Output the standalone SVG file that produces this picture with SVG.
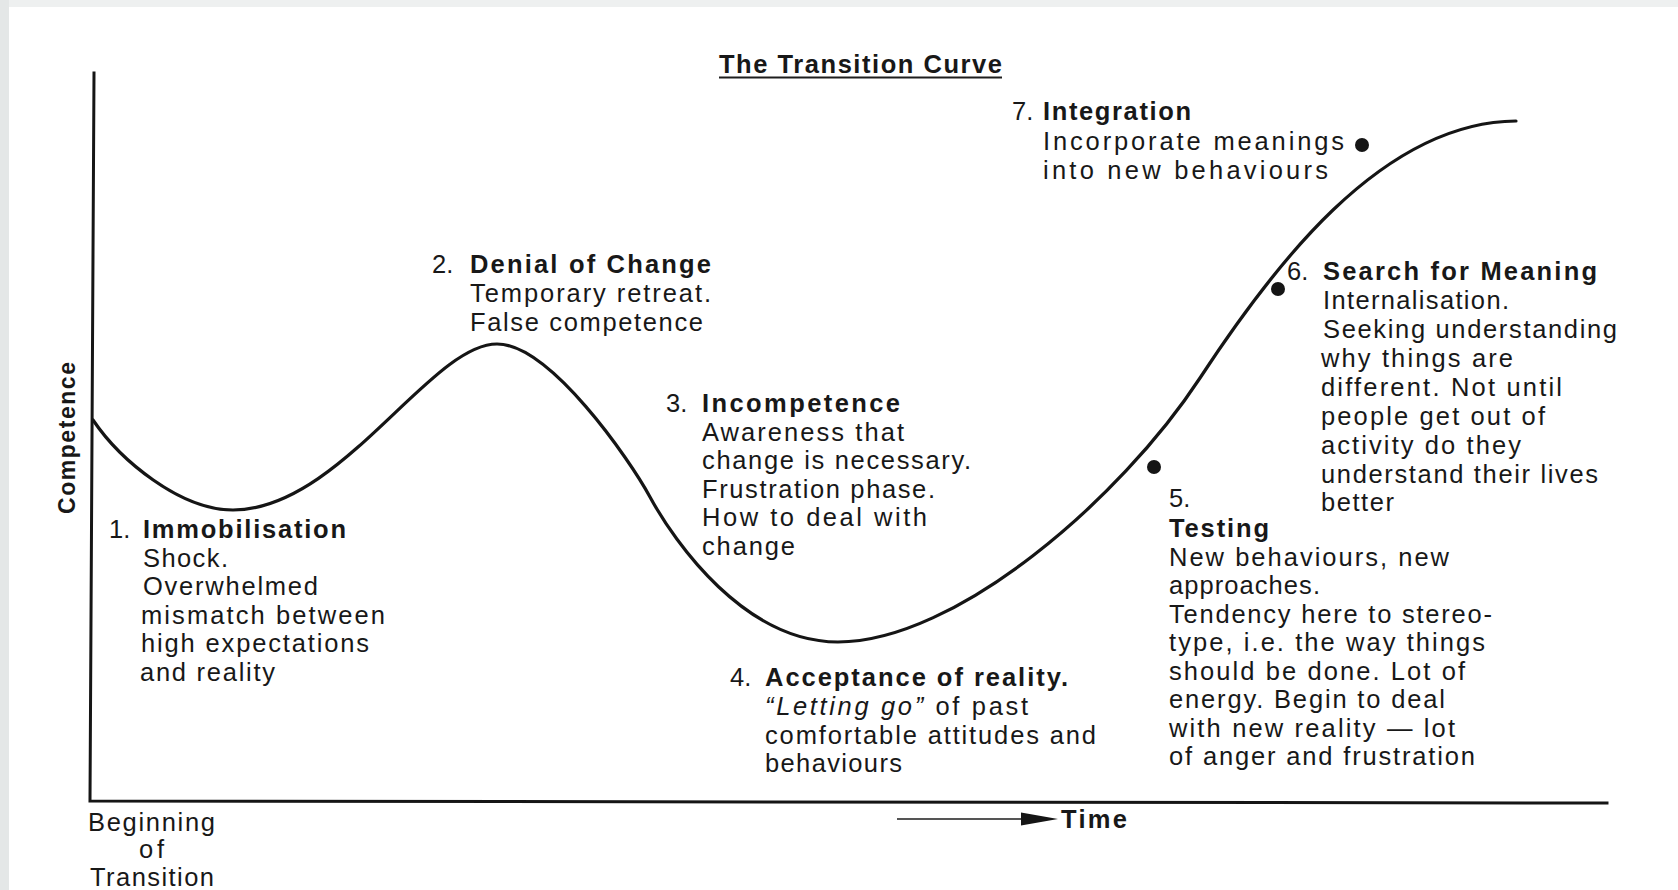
<svg xmlns="http://www.w3.org/2000/svg" width="1678" height="890" viewBox="0 0 1678 890">
<style>
text{font-family:"Liberation Sans",Arial,Helvetica,sans-serif;font-size:25.5px;fill:#181818}
.b{font-weight:bold}
.ax{fill:none;stroke:#151515;stroke-width:3;stroke-linecap:square}
.cv{fill:none;stroke:#151515;stroke-width:3.2;stroke-linecap:round;stroke-linejoin:round}
.dot{fill:#151515}
</style>
<rect x="0" y="0" width="1678" height="890" fill="#ffffff"/>
<rect x="0" y="0" width="1678" height="7" fill="#eef0f0"/>
<rect x="0" y="0" width="9" height="890" fill="#e4e7e7"/>

<g id="title">
<text class="b" x="719" y="73" textLength="283" lengthAdjust="spacing">The Transition Curve</text>
<line x1="719" y1="77.5" x2="1002" y2="77.5" stroke="#1e1e1e" stroke-width="2"/>
</g>

<g id="connectors">
<path class="ax" d="M94 73 L90 801 L1607 803"/>
<path class="cv" d="M93 420 C120 460 180 510 233 510 C340 510 430 344 497 344 C550 344 630 460 650 497 C675 543 745 642 838 642 C955 642 1120 500 1200 378 C1270 271 1380 122 1516 121"/>
<line x1="897" y1="819" x2="1024" y2="819" stroke="#555" stroke-width="2"/>
<polygon points="1021,812.5 1058,819 1021,825.5" fill="#151515"/>
</g>

<g id="axis-y-label">
<text class="b" style="font-size:23px" transform="translate(75,514) rotate(-90)" x="0" y="0" textLength="152" lengthAdjust="spacing">Competence</text>
</g>

<g id="axis-x-labels">
<text x="88" y="831" textLength="127" lengthAdjust="spacing">Beginning</text>
<text x="139" y="858" textLength="25" lengthAdjust="spacing">of</text>
<text x="90" y="886" textLength="124" lengthAdjust="spacing">Transition</text>
<text class="b" x="1061" y="828" textLength="66" lengthAdjust="spacing">Time</text>
</g>

<g id="stage1">
<text x="109" y="538">1.</text>
<text class="b" x="143" y="538" textLength="203" lengthAdjust="spacing">Immobilisation</text>
<text x="143" y="567" textLength="85" lengthAdjust="spacing">Shock.</text>
<text x="143" y="595" textLength="175" lengthAdjust="spacing">Overwhelmed</text>
<text x="141" y="624" textLength="244" lengthAdjust="spacing">mismatch between</text>
<text x="141" y="652" textLength="228" lengthAdjust="spacing">high expectations</text>
<text x="140" y="681" textLength="135" lengthAdjust="spacing">and reality</text>
</g>

<g id="stage2">
<text x="432" y="273">2.</text>
<text class="b" x="470" y="273" textLength="241" lengthAdjust="spacing">Denial of Change</text>
<text x="470" y="302" textLength="241" lengthAdjust="spacing">Temporary retreat.</text>
<text x="470" y="331" textLength="233" lengthAdjust="spacing">False competence</text>
</g>

<g id="stage3">
<text x="666" y="412">3.</text>
<text class="b" x="702" y="412" textLength="198" lengthAdjust="spacing">Incompetence</text>
<text x="702" y="441" textLength="202" lengthAdjust="spacing">Awareness that</text>
<text x="702" y="469" textLength="269" lengthAdjust="spacing">change is necessary.</text>
<text x="702" y="498" textLength="233" lengthAdjust="spacing">Frustration phase.</text>
<text x="702" y="526" textLength="225" lengthAdjust="spacing">How to deal with</text>
<text x="702" y="555" textLength="93" lengthAdjust="spacing">change</text>
</g>

<g id="stage4">
<text x="730" y="686">4.</text>
<text class="b" x="765" y="686" textLength="303" lengthAdjust="spacing">Acceptance of reality.</text>
<text x="765" y="715" textLength="263" lengthAdjust="spacing"><tspan font-style="italic">“Letting go”</tspan> of past</text>
<text x="765" y="744" textLength="331" lengthAdjust="spacing">comfortable attitudes and</text>
<text x="765" y="772" textLength="137" lengthAdjust="spacing">behaviours</text>
</g>

<g id="stage5">
<circle class="dot" cx="1154" cy="467" r="7"/>
<text x="1169" y="507">5.</text>
<text class="b" x="1169" y="537" textLength="100" lengthAdjust="spacing">Testing</text>
<text x="1169" y="566" textLength="280" lengthAdjust="spacing">New behaviours, new</text>
<text x="1169" y="594" textLength="151" lengthAdjust="spacing">approaches.</text>
<text x="1169" y="623" textLength="323" lengthAdjust="spacing">Tendency here to stereo-</text>
<text x="1169" y="651" textLength="316" lengthAdjust="spacing">type, i.e. the way things</text>
<text x="1169" y="680" textLength="296" lengthAdjust="spacing">should be done. Lot of</text>
<text x="1169" y="708" textLength="276" lengthAdjust="spacing">energy. Begin to deal</text>
<text x="1169" y="737" textLength="286" lengthAdjust="spacing">with new reality — lot</text>
<text x="1169" y="765" textLength="306" lengthAdjust="spacing">of anger and frustration</text>
</g>

<g id="stage6">
<circle class="dot" cx="1278" cy="289" r="7"/>
<text x="1287" y="280">6.</text>
<text class="b" x="1323" y="280" textLength="274" lengthAdjust="spacing">Search for Meaning</text>
<text x="1323" y="309" textLength="186" lengthAdjust="spacing">Internalisation.</text>
<text x="1323" y="338" textLength="294" lengthAdjust="spacing">Seeking understanding</text>
<text x="1321" y="367" textLength="192" lengthAdjust="spacing">why things are</text>
<text x="1321" y="396" textLength="241" lengthAdjust="spacing">different. Not until</text>
<text x="1321" y="425" textLength="224" lengthAdjust="spacing">people get out of</text>
<text x="1321" y="454" textLength="200" lengthAdjust="spacing">activity do they</text>
<text x="1321" y="483" textLength="277" lengthAdjust="spacing">understand their lives</text>
<text x="1321" y="511" textLength="73" lengthAdjust="spacing">better</text>
</g>

<g id="stage7">
<circle class="dot" cx="1362" cy="145" r="7"/>
<text x="1012" y="120">7.</text>
<text class="b" x="1043" y="120" textLength="148" lengthAdjust="spacing">Integration</text>
<text x="1043" y="150" textLength="301" lengthAdjust="spacing">Incorporate meanings</text>
<text x="1043" y="179" textLength="285" lengthAdjust="spacing">into new behaviours</text>
</g>
</svg>
